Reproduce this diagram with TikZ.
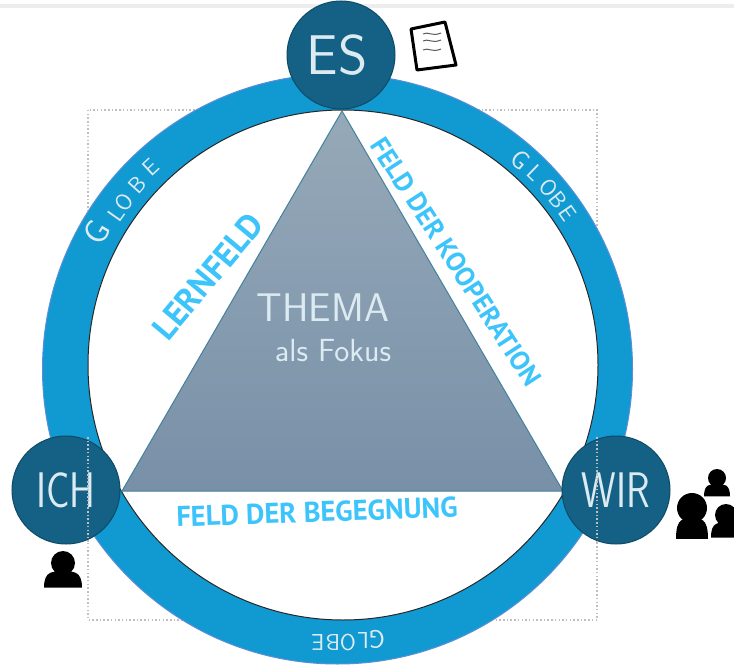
\documentclass[tikz,border=0pt]{standalone}
\usepackage{fontspec}
\newfontfamily\feldfont{PT Sans}
\definecolor{ringblue}{HTML}{1199D2}
\definecolor{ringedge}{HTML}{5A8FD8}
\definecolor{eckeblue}{HTML}{156185}
\definecolor{eckeedge}{HTML}{0E4A66}
\definecolor{feldblue}{HTML}{3CC4FB}
\definecolor{hand}{HTML}{DCEBF2}
\definecolor{themaoben}{HTML}{96A9B8}
\definecolor{themaunten}{HTML}{7890A8}
\tikzset{
	ecke/.style={circle,draw=eckeedge,line width=1pt,fill=eckeblue,minimum size=108pt,inner sep=0pt,text=hand},
	feld/.style={text=feldblue,inner sep=0pt},
	globe/.style={text=hand,inner sep=0pt},
	thema/.style={text=hand,inner sep=0pt},
	dotbox/.style={draw=black!25,line width=1.5pt,dash pattern=on 1.5pt off 2.2pt}
}
\newcommand{\person}[4]{% x, y of the head, radius of the head, half width of the body
	\fill (#1,#2) circle (#3pt);
	\fill (#1-#4,#2+2.05*#3) .. controls (#1-#4,#2+0.6*#3) and (#1-0.5*#4,#2+0.7*#3) .. (#1,#2+0.7*#3)
		.. controls (#1+0.5*#4,#2+0.7*#3) and (#1+#4,#2+0.6*#3) .. (#1+#4,#2+2.05*#3) -- cycle;
}
\begin{document}
\begin{tikzpicture}[x=1pt,y=-1pt]
	\useasboundingbox (0,0) rectangle (734,666);
	\fill[white] (0,0) rectangle (734,666);
	\fill[black!7] (0,4) rectangle (734,8);
	% the box behind the ring
	\draw[dotbox] (88,110) rectangle (597,620);
	% globe
	\draw[ringedge,fill=ringblue,line width=1pt] (337.5,369) circle (295pt);
	\draw[black!85,fill=white,line width=1pt] (343,365) circle (255pt);
	% triangle
	\draw[draw=eckeblue!80,line width=1pt,top color=themaoben,bottom color=themaunten] (342,111) -- (122,491) -- (563,491) -- cycle;
	% corners
	\node[ecke,font=\sffamily\fontsize{56}{56}\selectfont] (es) at (341,55) {\hspace*{-8pt}ES};
	\node[ecke,font=\sffamily\fontsize{50}{50}\selectfont] (ich) at (66,490) {\scalebox{.78}[1]{ICH}};
	\node[ecke,font=\sffamily\fontsize{50}{50}\selectfont] (wir) at (616,490) {\scalebox{.78}[1]{WIR}};
	\draw[dotbox] (88,437) -- (88,543);
	\draw[dotbox] (597,437) -- (597,543);
	% texts
	\node[thema,font=\sffamily\fontsize{40}{40}\selectfont] (thema) at (323,308) {THEMA};
	\node[thema,font=\sffamily\fontsize{32}{32}\selectfont] (fokus) at (333,351) {als Fokus};
	\node[feld,rotate=50,font=\feldfont\bfseries\fontsize{34}{34}\selectfont] (lernfeld) at (208,276) {LERNFELD};
	\node[feld,rotate=-57,font=\feldfont\bfseries\fontsize{27}{27}\selectfont] (kooperation) at (456,262) {FELD DER KOOPERATION};
	\node[feld,rotate=2,font=\feldfont\bfseries\fontsize{28.5}{29}\selectfont] (begegnung) at (317,512) {FELD DER BEGEGNUNG};
	\foreach \ch/\x/\y/\r/\s in {G/97/232/60/34,L/116/214/55/23,O/124/202/52/23,B/137/185/48/23,E/151/167/43/23,
		G/520/160/-40/26,L/535/173/-44/23,O/549/188/-47/23,B/558/200/-51/23,E/568/213/-55/23,
		G/377/639/180/26,L/363/640/180/23,O/348/642/180/23,B/333/642/180/23,E/318/642/180/23}
		\node[globe,rotate=\r,font=\sffamily\fontsize{\s}{\s}\selectfont] at (\x,\y) {\ch};
	% sheet of paper
	\draw[line width=3pt,line join=round,fill=white] (411,29) -- (445,22) -- (456,65) -- (417,70) -- cycle;
	\foreach \y in {34,41,50}
		\draw[black!65,line width=1pt] (423,\y) .. controls (428,\y-3) and (432,\y+3) .. (441,\y-1);
	% people
	\person{63}{563}{12}{19}
	\person{717}{478}{9}{13}
	\person{692}{508}{15}{16}
	\person{726}{515}{11}{15}
\end{tikzpicture}
\end{document}
